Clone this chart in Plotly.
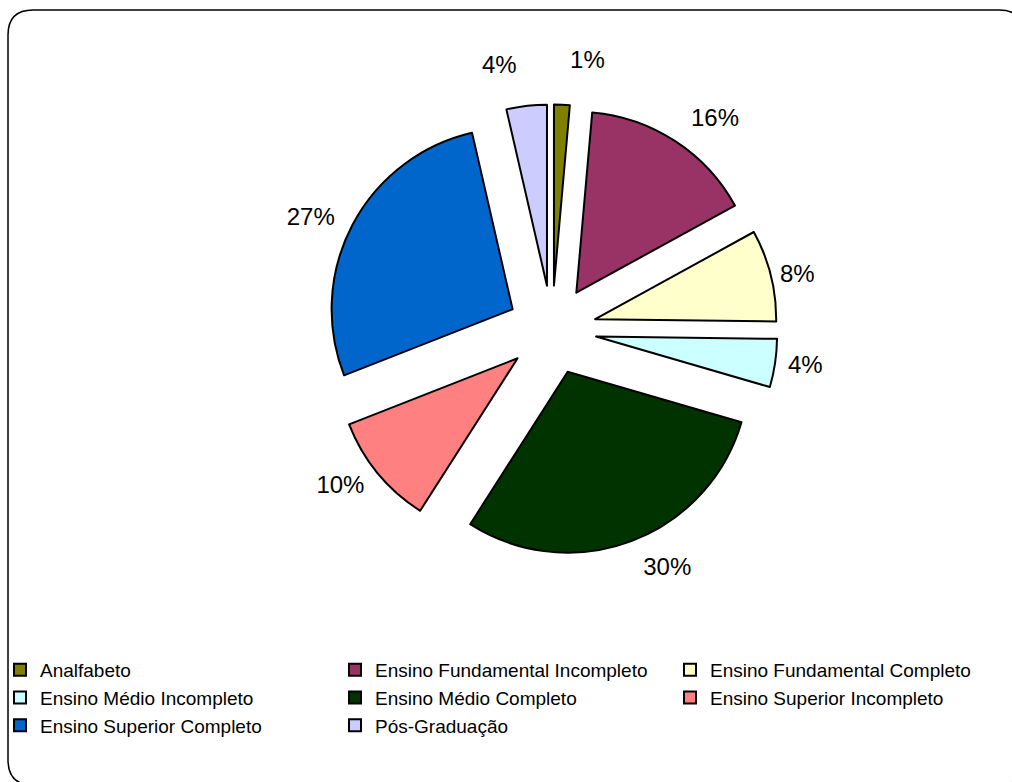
import plotly.graph_objects as go

# Escolaridade dos entrevistados (%)
categorias = [
    "Analfabeto",
    "Ensino Fundamental Incompleto",
    "Ensino Fundamental Completo",
    "Ensino Médio Incompleto",
    "Ensino Médio Completo",
    "Ensino Superior Incompleto",
    "Ensino Superior Completo",
    "Pós-Graduação",
]
percentuais = [1.4, 15.6, 8.2, 4.3, 29.55, 10.0, 27.35, 3.6]
cores = ["#808000", "#993366", "#FFFFCC", "#CCFFFF",
         "#003300", "#FF8080", "#0066CC", "#CCCCFF"]

W, H = 1012, 782
CX, CY = 552, 330          # centro da pizza (px)
RAIO = 181                 # raio das fatias (px)
DESTAQUE = 0.246           # afastamento das fatias, fração do raio

# afastamento dos rótulos de percentual (fração do raio)
afast_rotulos = [0.42, 0.337, 0.26, 0.28, 0.326, 0.293, 0.315, 0.403]
max_rot = max(afast_rotulos)


def dominio(pull):
    meio = RAIO * (1 + pull)
    return dict(x=[(CX - meio) / W, (CX + meio) / W],
                y=[1 - (CY + meio) / H, 1 - (CY - meio) / H])


fatias = go.Pie(
    labels=categorias,
    values=percentuais,
    sort=False,
    direction="clockwise",
    rotation=0,
    pull=DESTAQUE,
    marker=dict(colors=cores, line=dict(color="black", width=2)),
    textinfo="none",
    hoverinfo="skip",
    domain=dominio(DESTAQUE),
)

# mesma pizza, transparente, só para posicionar os rótulos de percentual
rotulos = go.Pie(
    labels=categorias,
    values=percentuais,
    sort=False,
    direction="clockwise",
    rotation=0,
    pull=afast_rotulos,
    marker=dict(colors=["rgba(0,0,0,0)"] * len(categorias),
                line=dict(width=0)),
    texttemplate="%{percent:.0%}",
    textposition="outside",
    outsidetextfont=dict(family="Liberation Sans, Arial", size=24, color="black"),
    hoverinfo="skip",
    showlegend=False,
    domain=dominio(max_rot),
)

fig = go.Figure([fatias, rotulos])


def px(x, y):
    return f"{x / W:.5f},{1 - y / H:.5f}"


# moldura com cantos arredondados
L, T, R, B, rad = 8, 10, 1024, 785, 25
frame = (
    f"M {px(L, T + rad)} Q {px(L, T)} {px(L + rad, T)} "
    f"L {px(R - rad, T)} Q {px(R, T)} {px(R, T + rad)} "
    f"L {px(R, B - rad)} Q {px(R, B)} {px(R - rad, B)} "
    f"L {px(L + rad, B)} Q {px(L, B)} {px(L, B - rad)} Z"
)

fig.update_layout(
    width=W,
    height=H,
    margin=dict(l=0, r=0, t=0, b=0, autoexpand=False),
    paper_bgcolor="white",
    plot_bgcolor="white",
    font=dict(family="Liberation Sans, Arial", color="black"),
    shapes=[dict(type="path", xref="paper", yref="paper", path=frame,
                 line=dict(color="black", width=1.5), layer="below")],
    legend=dict(
        orientation="h",
        x=0,
        xanchor="left",
        y=1 - 651 / H,
        yanchor="top",
        entrywidth=290,
        entrywidthmode="pixels",
        font=dict(family="Liberation Sans, Arial", size=19, color="black"),
        bgcolor="rgba(0,0,0,0)",
        traceorder="normal",
    ),
    showlegend=True,
)

fig.write_html("out.html", config={"displayModeBar": False})
